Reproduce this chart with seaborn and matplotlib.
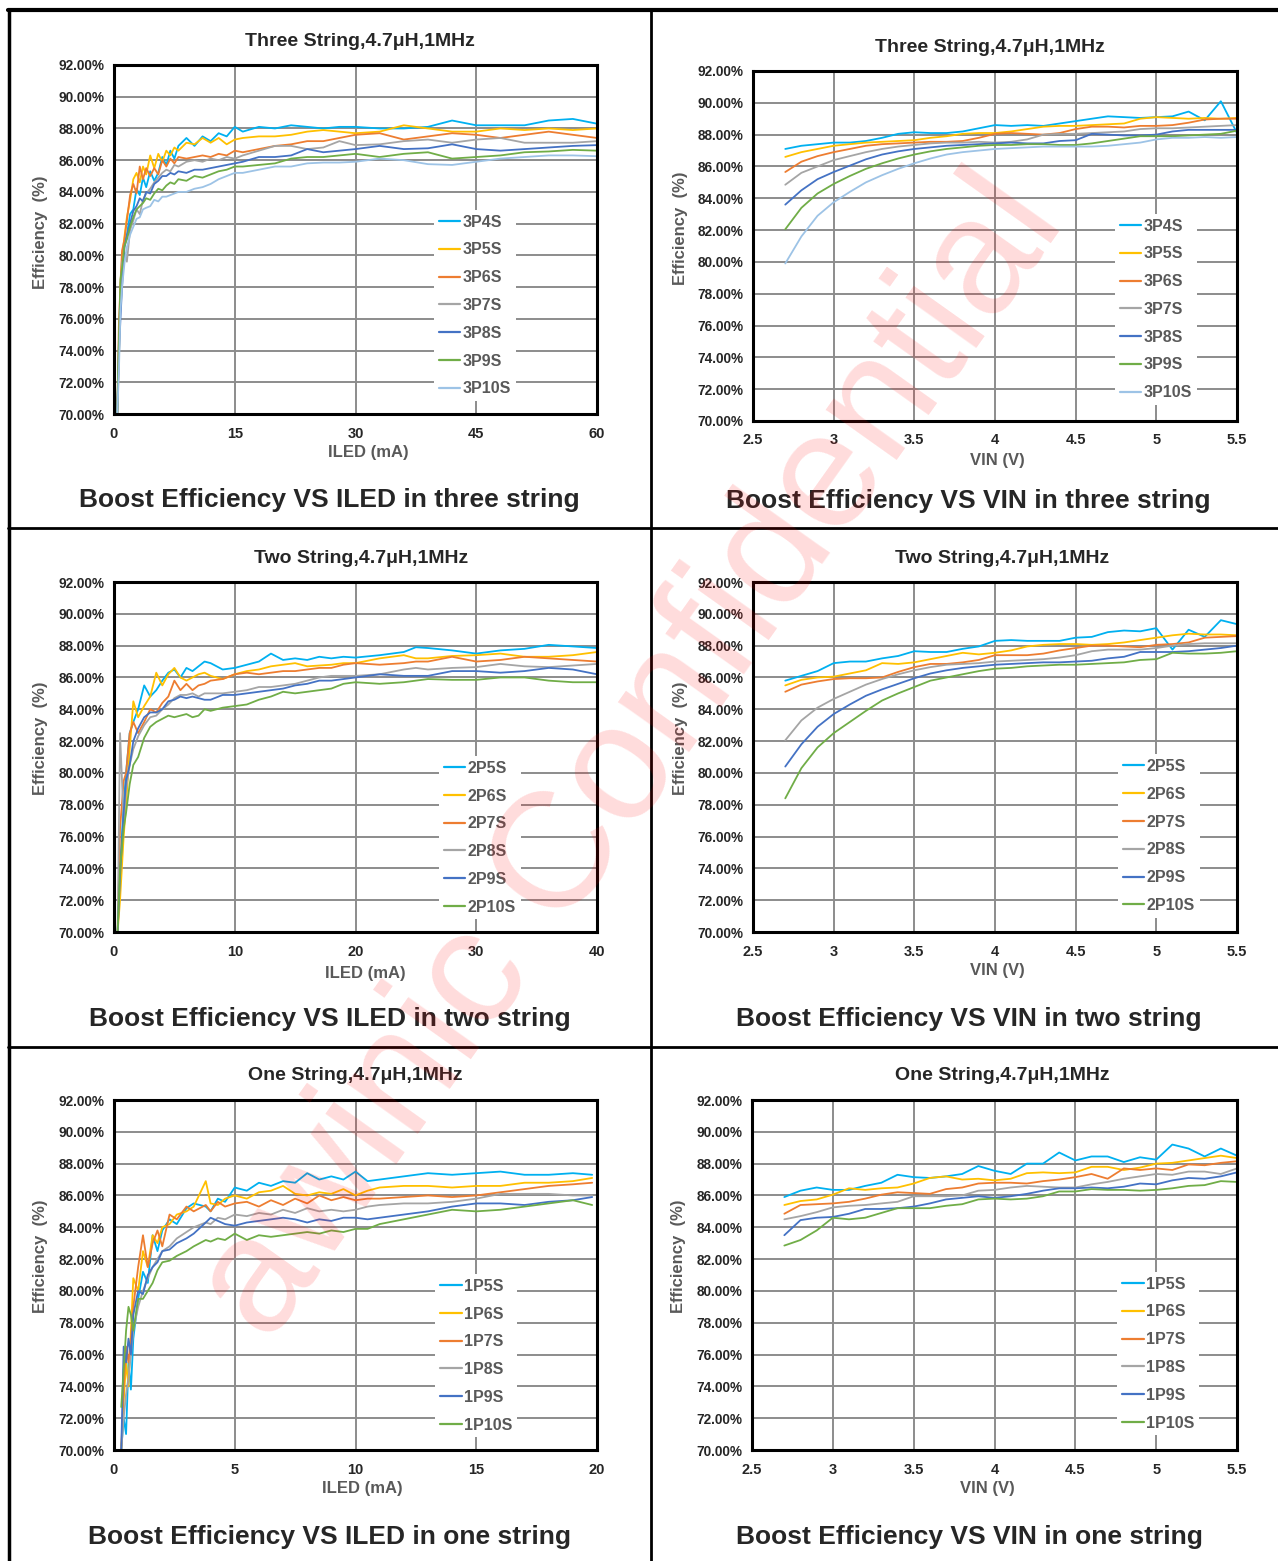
import pandas as pd
import matplotlib
matplotlib.use('Agg')
import matplotlib.pyplot as plt
import seaborn as sns
from matplotlib.lines import Line2D
from matplotlib.ticker import FuncFormatter

sns.set_style('white')
plt.rcParams['font.family'] = ['Liberation Sans', 'DejaVu Sans']
plt.rcParams['font.weight'] = 'bold'

# Excel style series colours
colors = ['#00B0F0', '#FFC000', '#ED7D31', '#A5A5A5', '#4472C4', '#70AD47', '#9DC3E6']
y_ticks = [70, 72, 74, 76, 78, 80, 82, 84, 86, 88, 90, 92]

# ---------------- three string, efficiency vs ILED ----------------
iled_three = [0.4, 0.6, 0.8, 1.0, 1.3, 1.6, 2.0, 2.4, 2.8, 3.2, 3.6, 4.0, 4.5, 5.0, 5.5, 6.0, 6.5, 7.0, 7.5, 8.0,
              9, 10, 11, 12, 13, 14, 15, 16, 18, 20, 22, 24, 26, 28, 30, 33, 36, 39, 42, 45, 48, 51, 54, 57, 60]
i_3p4s = [70.0, 74.5, 77.8, 78.6, 80.8, 81.3, 82.6, 82.9, 84.2, 83.8, 84.9, 84.3, 85.3, 84.7, 85.2, 86.2, 85.7, 86.6, 86.1, 86.9,
          87.4, 86.9, 87.5, 87.2, 87.7, 87.5, 88.1, 87.8, 88.1, 88.0, 88.2, 88.1, 88.0, 88.1, 88.1, 88.0, 88.0, 88.1, 88.5, 88.2,
          88.2, 88.2, 88.5, 88.6, 88.3]
i_3p5s = [70.0, 73.2, 78.0, 79.8, 81.2, 82.4, 83.5, 84.8, 85.2, 84.6, 85.6, 85.1, 86.3, 85.5, 86.4, 85.9, 86.6, 86.3, 86.8, 86.6,
          87.1, 87.0, 87.4, 87.1, 87.4, 87.0, 87.3, 87.4, 87.5, 87.5, 87.6, 87.8, 87.9, 87.8, 87.7, 87.8, 88.2, 88.0, 87.8, 87.8,
          88.0, 87.9, 88.0, 87.9, 88.0]
i_3p6s = [70.0, 75.5, 78.2, 80.3, 81.0, 82.2, 83.8, 84.5, 83.9, 85.6, 84.8, 85.5, 85.0, 85.5, 85.1, 86.0, 85.6, 86.1, 85.8, 86.2,
          86.1, 86.2, 86.3, 86.2, 86.4, 86.3, 86.6, 86.5, 86.7, 86.9, 87.0, 87.2, 87.2, 87.4, 87.6, 87.7, 87.3, 87.5, 87.7, 87.6,
          87.4, 87.6, 87.8, 87.6, 87.4]
i_3p7s = [70.0, 74.0, 77.2, 79.5, 80.2, 79.6, 81.6, 82.2, 82.9, 82.6, 83.5, 83.9, 84.2, 84.6, 84.9, 85.2, 85.4, 85.3, 85.7, 85.6,
          85.9, 86.0, 85.9, 86.1, 86.0, 86.2, 86.1, 86.3, 86.6, 86.9, 86.9, 86.7, 86.8, 87.2, 86.95, 87.0, 87.2, 87.3, 87.1, 87.3,
          87.4, 87.1, 87.1, 87.1, 87.2]
i_3p8s = [70.0, 73.5, 76.0, 78.0, 80.5, 81.2, 82.0, 82.8, 83.1, 83.6, 83.4, 84.0, 83.9, 84.5, 84.7, 85.0, 85.0, 85.2, 85.1, 85.3,
          85.2, 85.4, 85.4, 85.5, 85.6, 85.7, 85.8, 85.9, 86.2, 86.2, 86.3, 86.7, 86.5, 86.6, 86.7, 86.9, 86.7, 86.75, 87.0, 86.7,
          86.6, 86.7, 86.8, 86.9, 86.95]
i_3p9s = [70.0, 74.2, 78.5, 79.2, 80.6, 81.0, 81.8, 82.4, 82.9, 83.1, 83.3, 83.6, 83.5, 83.9, 84.2, 84.1, 84.4, 84.6, 84.5, 84.8,
          84.7, 85.0, 84.9, 85.1, 85.3, 85.4, 85.6, 85.6, 85.7, 85.8, 86.1, 86.2, 86.2, 86.3, 86.4, 86.2, 86.4, 86.5, 86.1, 86.2,
          86.3, 86.5, 86.55, 86.65, 86.6]
i_3p10s = [70.0, 72.5, 76.5, 78.0, 79.5, 80.5, 81.3, 81.8, 82.3, 82.4, 82.9, 83.0, 83.1, 83.5, 83.4, 83.7, 83.7, 83.8, 83.9, 84.0,
           84.0, 84.2, 84.3, 84.5, 84.8, 85.0, 85.2, 85.2, 85.4, 85.6, 85.6, 85.8, 85.85, 85.85, 85.9, 86.1, 86.0, 85.75, 85.7, 85.9,
           86.1, 86.2, 86.3, 86.3, 86.25]
names_three = ['3P4S', '3P5S', '3P6S', '3P7S', '3P8S', '3P9S', '3P10S']

# ---------------- efficiency vs VIN (shared VIN points) ----------------
vin = [2.7, 2.8, 2.9, 3.0, 3.1, 3.2, 3.3, 3.4, 3.5, 3.6, 3.7, 3.8, 3.9, 4.0, 4.1, 4.2, 4.3, 4.4, 4.5, 4.6,
       4.7, 4.8, 4.9, 5.0, 5.1, 5.2, 5.3, 5.4, 5.5]

v_3p4s = [87.1, 87.3, 87.4, 87.5, 87.5, 87.6, 87.8, 88.05, 88.15, 88.1, 88.1, 88.2, 88.4, 88.6, 88.55, 88.6, 88.55, 88.7, 88.85, 89.0,
          89.15, 89.1, 89.05, 89.1, 89.15, 89.45, 88.9, 90.1, 88.1]
v_3p5s = [86.6, 86.9, 87.1, 87.3, 87.4, 87.5, 87.55, 87.6, 87.65, 87.8, 87.9, 88.05, 88.1, 88.1, 88.2, 88.35, 88.5, 88.55, 88.55, 88.6,
          88.65, 88.7, 89.0, 89.1, 89.05, 89.0, 89.05, 89.0, 89.05]
v_3p6s = [85.65, 86.3, 86.65, 86.9, 87.1, 87.3, 87.4, 87.45, 87.5, 87.55, 87.55, 87.6, 87.8, 88.05, 88.1, 88.05, 88.0, 88.1, 88.35, 88.5,
          88.5, 88.45, 88.55, 88.55, 88.6, 88.75, 88.95, 89.0, 89.0]
v_3p7s = [84.85, 85.6, 86.0, 86.4, 86.65, 86.9, 87.1, 87.25, 87.35, 87.45, 87.5, 87.5, 87.55, 87.5, 87.55, 87.7, 88.0, 88.05, 88.05, 88.1,
          88.15, 88.2, 88.35, 88.4, 88.4, 88.45, 88.5, 88.55, 88.6]
v_3p8s = [83.6, 84.5, 85.2, 85.65, 86.05, 86.45, 86.75, 86.95, 87.1, 87.2, 87.3, 87.35, 87.4, 87.45, 87.5, 87.45, 87.45, 87.6, 87.65, 88.05,
          88.0, 87.95, 87.95, 88.0, 88.2, 88.3, 88.3, 88.3, 88.3]
v_3p9s = [82.05, 83.4, 84.3, 84.9, 85.4, 85.85, 86.2, 86.5, 86.75, 86.95, 87.1, 87.2, 87.3, 87.35, 87.35, 87.4, 87.4, 87.35, 87.35, 87.45,
          87.6, 87.75, 87.9, 87.9, 87.9, 87.95, 88.0, 88.05, 88.25]
v_3p10s = [79.9, 81.6, 82.9, 83.75, 84.4, 85.0, 85.45, 85.85, 86.2, 86.5, 86.75, 86.9, 87.0, 87.1, 87.15, 87.2, 87.25, 87.25, 87.25, 87.25,
           87.3, 87.4, 87.5, 87.7, 87.8, 87.8, 87.85, 87.8, 87.85]

# ---------------- two string, efficiency vs ILED ----------------
iled_two = [0.3, 0.5, 0.8, 1.0, 1.3, 1.6, 2.0, 2.5, 3.0, 3.5, 4.0, 4.5, 5.0, 5.5, 6.0, 6.5, 7.0, 7.5, 8, 9,
            10, 11, 12, 13, 14, 15, 16, 17, 18, 19, 20, 22, 24, 25, 26, 28, 30, 32, 34, 36, 38, 40]
i_2p5s = [70.0, 74.0, 78.0, 80.0, 82.5, 83.2, 84.0, 85.5, 84.8, 85.2, 85.8, 86.3, 86.5, 86.0, 86.6, 86.4, 86.7, 87.0, 86.9, 86.5,
          86.6, 86.8, 87.0, 87.5, 87.1, 87.2, 87.1, 87.3, 87.2, 87.3, 87.25, 87.4, 87.6, 87.9, 87.85, 87.7, 87.5, 87.7, 87.8, 88.05,
          87.95, 87.85]
i_2p6s = [70.0, 72.0, 76.0, 78.0, 81.5, 84.5, 83.5, 84.2, 84.8, 86.3, 85.5, 86.2, 86.6, 86.0, 85.8, 86.0, 86.2, 86.3, 86.1, 85.9,
          86.2, 86.4, 86.5, 86.7, 86.8, 86.9, 86.7, 86.75, 86.8, 86.9, 86.9, 87.2, 87.4, 87.2, 87.2, 87.35, 87.4, 87.5, 87.3, 87.3,
          87.4, 87.6]
i_2p7s = [70.0, 76.5, 79.5, 80.0, 82.5, 83.2, 82.5, 83.2, 84.0, 83.8, 84.4, 84.8, 85.8, 85.2, 85.6, 85.2, 85.5, 85.6, 85.8, 85.9,
          86.2, 86.3, 86.2, 86.3, 86.4, 86.4, 86.5, 86.6, 86.6, 86.8, 86.9, 86.8, 86.9, 87.0, 87.0, 87.3, 87.0, 87.1, 87.3, 87.2,
          87.1, 87.0]
i_2p8s = [70.0, 82.5, 77.0, 79.0, 80.5, 81.5, 82.3, 83.0, 83.5, 83.6, 84.0, 84.3, 84.7, 84.9, 84.9, 85.0, 84.8, 85.0, 85.0, 85.0,
          85.1, 85.2, 85.4, 85.4, 85.5, 85.6, 85.8, 86.0, 86.1, 86.1, 86.1, 86.2, 86.5, 86.6, 86.5, 86.6, 86.65, 86.85, 86.7, 86.65,
          86.75, 86.85]
i_2p9s = [70.0, 73.5, 77.5, 79.5, 80.5, 82.0, 82.8, 83.5, 83.8, 83.8, 84.0, 84.5, 84.6, 84.8, 84.7, 84.8, 84.7, 84.6, 84.6, 84.9,
          84.9, 85.0, 85.1, 85.2, 85.3, 85.5, 85.6, 85.8, 85.8, 85.9, 86.0, 86.2, 86.1, 86.1, 86.1, 86.4, 86.4, 86.3, 86.4, 86.6,
          86.5, 86.2]
i_2p10s = [70.0, 74.0, 76.5, 77.5, 79.3, 80.5, 81.0, 82.2, 82.9, 83.2, 83.4, 83.6, 83.5, 83.6, 83.7, 83.5, 83.6, 84.0, 83.9, 84.1,
           84.2, 84.3, 84.6, 84.8, 85.1, 85.0, 85.1, 85.2, 85.3, 85.6, 85.7, 85.6, 85.7, 85.8, 85.9, 85.85, 85.85, 86.0, 86.0, 85.8,
           85.7, 85.7]
names_two = ['2P5S', '2P6S', '2P7S', '2P8S', '2P9S', '2P10S']

v_2p5s = [85.8, 86.1, 86.4, 86.9, 87.0, 87.0, 87.2, 87.35, 87.65, 87.6, 87.6, 87.8, 87.95, 88.3, 88.35, 88.3, 88.3, 88.3, 88.5, 88.55,
          88.85, 88.95, 88.9, 89.1, 87.75, 89.0, 88.55, 89.6, 89.35]
v_2p6s = [85.5, 85.85, 86.0, 86.05, 86.25, 86.45, 86.9, 86.85, 86.95, 87.15, 87.35, 87.55, 87.45, 87.55, 87.7, 87.95, 88.05, 88.1, 88.1, 88.05,
          88.1, 88.2, 88.35, 88.5, 88.65, 88.75, 88.7, 88.7, 88.65]
v_2p7s = [85.1, 85.55, 85.75, 85.9, 85.95, 85.95, 86.0, 86.35, 86.65, 86.85, 86.85, 86.95, 87.1, 87.4, 87.4, 87.4, 87.5, 87.7, 87.85, 88.0,
          88.0, 87.95, 87.9, 88.05, 88.1, 88.2, 88.5, 88.55, 88.6]
v_2p8s = [82.05, 83.3, 84.1, 84.65, 85.1, 85.55, 85.9, 86.2, 86.45, 86.65, 86.8, 86.85, 86.9, 87.0, 87.05, 87.1, 87.15, 87.25, 87.4, 87.65,
          87.75, 87.75, 87.75, 87.85, 88.0, 88.1, 88.15, 88.15, 88.15]
v_2p9s = [80.4, 81.8, 82.9, 83.7, 84.3, 84.85, 85.25, 85.6, 85.95, 86.25, 86.45, 86.6, 86.7, 86.8, 86.85, 86.9, 86.95, 86.95, 87.0, 87.05,
          87.2, 87.3, 87.6, 87.6, 87.6, 87.65, 87.75, 87.85, 88.0]
v_2p10s = [78.4, 80.3, 81.6, 82.5, 83.2, 83.9, 84.55, 85.0, 85.4, 85.8, 86.0, 86.2, 86.4, 86.55, 86.6, 86.7, 86.75, 86.8, 86.8, 86.85,
           86.9, 86.95, 87.1, 87.15, 87.55, 87.5, 87.5, 87.55, 87.65]

# ---------------- one string, efficiency vs ILED ----------------
iled_one = [0.3, 0.4, 0.5, 0.6, 0.7, 0.8, 1.0, 1.2, 1.4, 1.6, 1.8, 2.0, 2.3, 2.6, 3.0, 3.3, 3.8, 4.0, 4.3, 4.6,
            5.0, 5.5, 6.0, 6.5, 7.0, 7.5, 8.0, 8.5, 9.0, 9.5, 10, 10.5, 11, 12, 13, 14, 15, 16, 17, 18, 19, 19.8]
i_1p5s = [70.0, 72.0, 71.0, 75.5, 73.8, 77.0, 79.5, 81.2, 80.5, 83.5, 82.5, 83.8, 84.5, 84.2, 85.2, 85.5, 85.3, 85.0, 85.8, 85.6,
          86.5, 86.3, 86.8, 86.6, 86.9, 86.8, 87.4, 87.0, 87.2, 87.0, 87.5, 86.9, 87.0, 87.2, 87.4, 87.3, 87.4, 87.5, 87.3, 87.3,
          87.4, 87.3]
i_1p6s = [70.0, 73.0, 75.5, 74.0, 77.5, 80.8, 80.0, 82.5, 81.5, 83.5, 83.0, 84.0, 84.2, 84.8, 85.0, 85.3, 86.9, 85.5, 85.4, 85.8,
          86.0, 85.8, 86.2, 86.3, 86.6, 86.1, 86.0, 86.2, 86.1, 86.4, 86.0, 86.3, 86.5, 86.6, 86.6, 86.5, 86.6, 86.6, 86.8, 86.8,
          86.9, 87.1]
i_1p7s = [70.0, 74.0, 76.5, 75.5, 77.0, 79.0, 81.5, 83.5, 81.5, 83.0, 83.8, 82.8, 84.8, 84.5, 85.3, 85.0, 85.4, 85.0, 85.6, 85.3,
          85.5, 85.6, 85.3, 85.7, 85.4, 85.8, 85.5, 86.0, 85.7, 85.9, 85.7, 85.8, 85.8, 85.9, 86.0, 85.9, 86.0, 86.2, 86.4, 86.6,
          86.7, 86.8]
i_1p8s = [70.0, 72.0, 73.5, 74.5, 76.0, 77.5, 79.0, 80.0, 80.8, 81.5, 82.0, 82.5, 82.8, 83.3, 83.7, 84.0, 84.3, 84.2, 84.6, 84.5,
          84.8, 84.7, 84.9, 84.8, 85.1, 84.9, 85.2, 85.0, 85.1, 85.0, 85.1, 85.3, 85.4, 85.5, 85.5, 85.6, 85.8, 86.1, 86.1, 86.1,
          86.0, 86.0]
i_1p9s = [70.0, 76.5, 75.5, 77.0, 76.0, 78.5, 80.0, 79.8, 81.0, 81.5, 81.8, 82.5, 82.6, 83.0, 83.3, 83.6, 84.3, 84.6, 84.4, 84.2,
          84.1, 84.3, 84.4, 84.5, 84.6, 84.5, 84.3, 84.5, 84.4, 84.6, 84.6, 84.5, 84.6, 84.8, 85.0, 85.3, 85.5, 85.5, 85.4, 85.6,
          85.7, 85.9]
i_1p10s = [72.7, 75.0, 77.5, 79.0, 78.5, 77.5, 79.5, 79.5, 80.0, 80.5, 81.3, 81.8, 81.9, 82.2, 82.5, 82.8, 83.2, 83.1, 83.3, 83.2,
           83.6, 83.2, 83.5, 83.4, 83.5, 83.6, 83.7, 83.6, 83.8, 83.7, 83.9, 83.9, 84.2, 84.5, 84.8, 85.1, 85.0, 85.1, 85.3, 85.5,
           85.7, 85.4]
names_one = ['1P5S', '1P6S', '1P7S', '1P8S', '1P9S', '1P10S']

v_1p5s = [85.9, 86.3, 86.5, 86.35, 86.35, 86.6, 86.8, 87.3, 87.15, 87.1, 87.2, 87.35, 87.85, 87.55, 87.35, 88.0, 88.0, 88.7, 88.2, 88.45,
          88.45, 88.1, 88.4, 88.25, 89.2, 88.95, 88.45, 88.95, 88.5]
v_1p6s = [85.4, 85.65, 85.75, 86.05, 86.45, 86.35, 86.45, 86.5, 86.75, 87.1, 87.2, 87.0, 87.05, 86.95, 87.05, 87.4, 87.45, 87.4, 87.45, 87.8,
          87.8, 87.6, 87.75, 88.0, 88.05, 88.2, 88.35, 88.5, 88.35]
v_1p7s = [84.85, 85.4, 85.45, 85.5, 85.6, 85.8, 86.05, 86.2, 86.15, 86.1, 86.4, 86.5, 86.75, 86.8, 86.8, 86.75, 86.9, 87.0, 87.15, 87.35,
          87.05, 87.7, 87.6, 87.7, 87.6, 87.95, 87.9, 88.05, 88.15]
v_1p8s = [84.5, 84.7, 84.95, 85.25, 85.35, 85.4, 85.5, 85.6, 85.95, 85.95, 85.95, 86.0, 86.3, 86.35, 86.5, 86.6, 86.55, 86.5, 86.5, 86.7,
          86.85, 87.05, 87.2, 87.35, 87.3, 87.5, 87.5, 87.35, 87.7]
v_1p9s = [83.5, 84.45, 84.6, 84.65, 84.85, 85.15, 85.15, 85.2, 85.3, 85.5, 85.75, 85.85, 85.95, 85.85, 85.95, 86.1, 86.3, 86.45, 86.45, 86.5,
          86.45, 86.55, 86.75, 86.7, 86.95, 87.1, 87.05, 87.2, 87.45]
v_1p10s = [82.85, 83.2, 83.8, 84.6, 84.5, 84.6, 84.9, 85.2, 85.2, 85.2, 85.35, 85.45, 85.75, 85.8, 85.75, 85.8, 85.95, 86.25, 86.25, 86.4,
           86.35, 86.35, 86.3, 86.35, 86.45, 86.6, 86.65, 86.9, 86.85]

# ---------------- layout (pixel positions of the original sheet) ----------------
W, H = 1278, 1561
fig = plt.figure(figsize=(W / 100, H / 100), dpi=100)


def px(x, y):
    return x / W, 1 - y / H


def rect(x0, y0, x1, y1):
    return [x0 / W, 1 - y1 / H, (x1 - x0) / W, (y1 - y0) / H]


def num_fmt(v, p):
    return f'{v:g}'


def panel(box, xs, curves, names, xticks, leg_at, title, title_xy, ylab_xy, xlabel, xlab_xy, caption, cap_xy):
    ax = fig.add_axes(rect(*box))
    df = pd.concat([pd.DataFrame({'x': xs, 'eff': c, 'series': n}) for n, c in zip(names, curves)],
                   ignore_index=True)
    pal = colors[:len(names)]
    sns.lineplot(data=df, x='x', y='eff', hue='series', hue_order=names, palette=pal,
                 estimator=None, sort=False, linewidth=1.3, legend=False, ax=ax)
    ax.set_xlim(xticks[0], xticks[-1])
    ax.set_ylim(70, 92)
    ax.set_xticks(xticks)
    ax.set_yticks(y_ticks)
    ax.xaxis.set_major_formatter(FuncFormatter(num_fmt))
    ax.yaxis.set_major_formatter(FuncFormatter(lambda v, p: f'{v:.2f}%'))
    ax.set_xlabel('')
    ax.set_ylabel('')
    ax.grid(True, color='#8C8C8C', linewidth=1.4)
    ax.set_axisbelow(True)
    for s in ax.spines.values():
        s.set_color('black')
        s.set_linewidth(2.2)
    ax.tick_params(axis='both', length=0)
    ax.tick_params(axis='y', labelsize=9.8, pad=7)
    ax.tick_params(axis='x', labelsize=10.5, pad=9)

    handles = [Line2D([], [], color=c, lw=1.6) for c in pal]
    leg = ax.legend(handles, names, loc='upper left', bbox_to_anchor=leg_at, borderaxespad=0,
                    frameon=True, fancybox=False, facecolor='white', edgecolor='none', framealpha=1,
                    borderpad=0.3, labelspacing=0.8, handlelength=1.35, handletextpad=0.15,
                    prop={'size': 11.5, 'weight': 'bold'})
    for t in leg.get_texts():
        t.set_color('#595959')

    fig.text(*px(*title_xy), title, ha='center', va='center', fontsize=14)
    fig.text(*px(*ylab_xy), 'Efficiency  (%)', rotation=90, ha='center', va='center',
             fontsize=12, color='#595959')
    fig.text(*px(*xlab_xy), xlabel, ha='center', va='center', fontsize=12, color='#595959')
    fig.text(*px(*cap_xy), caption, ha='center', va='center', fontsize=19)
    return ax


iled3_ticks = [0, 15, 30, 45, 60]
iled2_ticks = [0, 10, 20, 30, 40]
iled1_ticks = [0, 5, 10, 15, 20]
vin_ticks = [2.5, 3, 3.5, 4, 4.5, 5, 5.5]

panel((114, 65, 597, 414), iled_three,
      [i_3p4s, i_3p5s, i_3p6s, i_3p7s, i_3p8s, i_3p9s, i_3p10s], names_three, iled3_ticks, (0.6625, 0.585),
      'Three String,4.7μH,1MHz', (360, 41), (40, 232), 'ILED (mA)', (368, 453),
      'Boost Efficiency VS ILED in three string', (329, 500))
panel((753, 71, 1237, 421), vin,
      [v_3p4s, v_3p5s, v_3p6s, v_3p7s, v_3p8s, v_3p9s, v_3p10s], names_three, vin_ticks, (0.748, 0.592),
      'Three String,4.7μH,1MHz', (990, 48), (680, 228), 'VIN (V)', (997, 461),
      'Boost Efficiency VS VIN in three string', (968, 501))
panel((114, 582, 597, 932), iled_two,
      [i_2p5s, i_2p6s, i_2p7s, i_2p8s, i_2p9s, i_2p10s], names_two, iled2_ticks, (0.673, 0.503),
      'Two String,4.7μH,1MHz', (361, 558), (40, 738), 'ILED (mA)', (365, 974),
      'Boost Efficiency VS ILED in two string', (330, 1019))
panel((753, 582, 1237, 932), vin,
      [v_2p5s, v_2p6s, v_2p7s, v_2p8s, v_2p9s, v_2p10s], names_two, vin_ticks, (0.754, 0.508),
      'Two String,4.7μH,1MHz', (1002, 558), (680, 738), 'VIN (V)', (997, 970),
      'Boost Efficiency VS VIN in two string', (969, 1019))
panel((114, 1100, 597, 1450), iled_one,
      [i_1p5s, i_1p6s, i_1p7s, i_1p8s, i_1p9s, i_1p10s], names_one, iled1_ticks, (0.665, 0.503),
      'One String,4.7μH,1MHz', (355, 1076), (40, 1256), 'ILED (mA)', (362, 1489),
      'Boost Efficiency VS ILED in one string', (329, 1537))
panel((752, 1100, 1237, 1450), vin,
      [v_1p5s, v_1p6s, v_1p7s, v_1p8s, v_1p9s, v_1p10s], names_one, vin_ticks, (0.753, 0.509),
      'One String,4.7μH,1MHz', (1002, 1076), (678, 1256), 'VIN (V)', (987, 1489),
      'Boost Efficiency VS VIN in one string', (969, 1537))

# table borders
border_lines = [((8, 10), (1278, 10), 3.0), ((9, 10), (9, 1561), 2.5), ((651, 10), (651, 1561), 2.0),
                ((8, 528), (1278, 528), 2.0), ((8, 1047), (1278, 1047), 2.0)]
for (xa, ya), (xb, yb), lw in border_lines:
    fig.add_artist(Line2D([xa / W, xb / W], [1 - ya / H, 1 - yb / H], transform=fig.transFigure,
                          color='black', linewidth=lw))

# watermark
fig.text(*px(632, 758), 'awinic Confidential', rotation=54.6, rotation_mode='anchor', ha='center',
         va='center', fontsize=119, fontweight='normal', color='red', alpha=0.14, zorder=20)

fig.savefig('out.png', dpi=100)
